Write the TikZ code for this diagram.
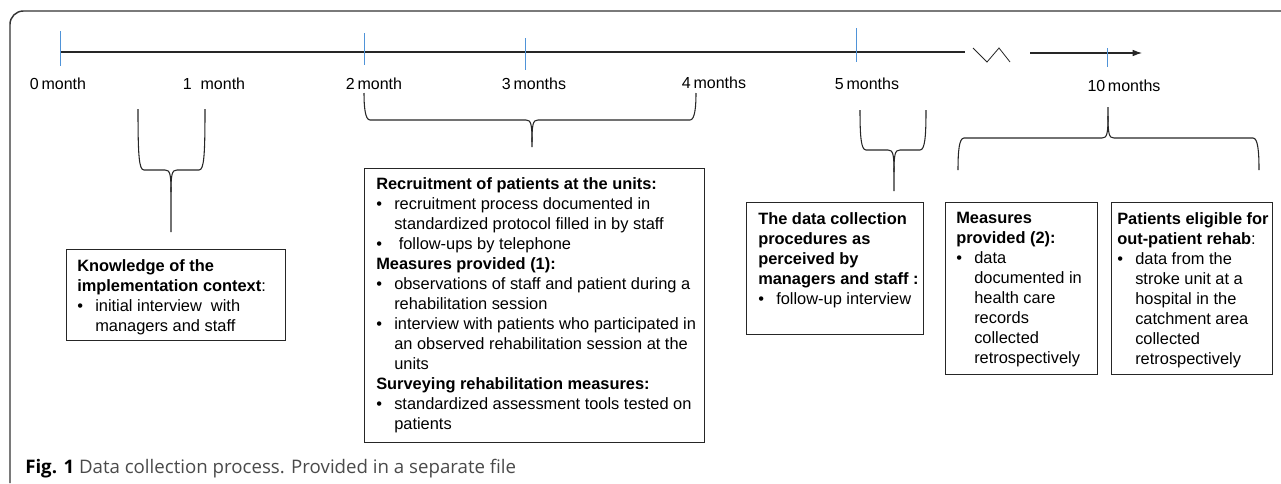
\documentclass[tikz,border=0pt]{standalone}
\usepackage{fontspec}
\setmainfont{Liberation Sans}
\newfontfamily\capfont{Open Sans}
\usetikzlibrary{arrows.meta}
\definecolor{tickblue}{HTML}{4F93D8}
\definecolor{capgray}{HTML}{4A4A4A}
\newcommand{\bul}{\makebox[13.5pt][l]{\textbullet}}
\newcommand{\ind}{\hspace*{13.5pt}}
% brace with arms up, tip down: L R top h T bottom
\newcommand{\bracedown}[6]{%
  \draw[brace] (#1,#3) .. controls (#1,#4-14) and (#1+1,#4) .. (#1+6,#4) -- (#5-6,#4)
     .. controls (#5-1,#4) and (#5,#4+4) .. (#5,#4+22) -- (#5,#6);
  \draw[brace] (#5,#4+22) .. controls (#5,#4+4) and (#5+1,#4) .. (#5+6,#4) -- (#2-6,#4)
     .. controls (#2-1,#4) and (#2,#4-14) .. (#2,#3);}
\newcommand{\braceup}[6]{%
  \draw[brace] (#1,#6) .. controls (#1,#4+14) and (#1+1,#4) .. (#1+6,#4) -- (#5-6,#4)
     .. controls (#5-1,#4) and (#5,#4-4) .. (#5,#4-22) -- (#5,#3);
  \draw[brace] (#5,#4-22) .. controls (#5,#4-4) and (#5+1,#4) .. (#5+6,#4) -- (#2-6,#4)
     .. controls (#2-1,#4) and (#2,#4+14) .. (#2,#6);}
\tikzset{
  brace/.style={draw=black!85, line width=0.8pt},
  tick/.style={draw=tickblue, line width=0.7pt},
  tline/.style={draw=black!85, line width=0.8pt},
  lbl/.style={font=\fontsize{12}{14}\selectfont, inner sep=0pt, anchor=base},
  boxx/.style={draw=black!85, line width=0.8pt, anchor=north west, inner sep=0pt},
  txt/.style={font=\fontsize{12.3}{15}\selectfont, align=left, anchor=north west, inner sep=0pt},
}
\begin{document}
\begin{tikzpicture}[x=0.75pt, y=-0.75pt]
\useasboundingbox (0,0) rectangle (1281,483);
% outer frame
\coordinate (fa) at (10,483);
\coordinate (fb) at (10,11);
\coordinate (fc) at (1295,11);
\draw[draw=black!80, line width=1.1pt, rounded corners=10pt] (fa) -- (fb) -- (fc);
% timeline
\coordinate (t0) at (60,52);
\coordinate (tend) at (965,52);
\draw[tline] (t0) -- (tend);
\coordinate (z1) at (973,48);
\coordinate (z2) at (987,62);
\coordinate (z3) at (999,48);
\coordinate (z4) at (1010,62);
\draw[tline, line width=0.6pt] (z1) -- (z2) -- (z3) -- (z4);
\coordinate (a0) at (1030,53);
\coordinate (a1) at (1142,53);
\draw[tline, -{Latex[length=7pt,width=5pt]}] (a0) -- (a1);
% ticks
\draw[tick] (60,31) -- (60,66);
\draw[tick] (364,33) -- (364,65);
\draw[tick] (525,38) -- (525,70);
\draw[tick] (856,28) -- (856,62);
\draw[tick] (1107,48) -- (1107,67);
% labels
\node[lbl] (l0) at (58,89) {0\,month};
\node[lbl] (l1) at (214,89) {1\ \ month};
\node[lbl] (l2) at (374,89) {2\,month};
\node[lbl] (l3) at (534,89) {3\,months};
\node[lbl] (l4) at (714,88) {4\,months};
\node[lbl] (l5) at (867,89) {5\,months};
\node[lbl] (l10) at (1124,91) {10\,months};
% braces
\bracedown{138}{205}{109}{170}{171}{232}
\bracedown{364}{696}{93}{120}{532}{147}
\bracedown{860}{926}{110}{150}{894}{191}
\braceup{958}{1259}{107}{138}{1108}{170}
% boxes
\node[boxx, minimum width={219*0.75pt}, minimum height={91*0.75pt}] (kbox) at (66,249) {};
\node[txt] (ktxt) at (77,259) {\textbf{Knowledge of the}\\
\textbf{implementation context}:\\
\bul initial interview\ \ with\\
\ind managers and staff};

\node[boxx, minimum width={340*0.75pt}, minimum height={274*0.75pt}] (rbox) at (364,168) {};
\node[txt] (rtxt) at (376,177) {\textbf{Recruitment of patients at the units:}\\
\bul recruitment process documented in\\
\ind standardized protocol filled in by staff\\
\bul\ follow-ups by telephone\\
\textbf{Measures provided (1):}\\
\bul observations of staff and patient during a\\
\ind rehabilitation session\\
\bul interview with patients who participated in\\
\ind an observed rehabilitation session at the\\
\ind units\\
\textbf{Surveying rehabilitation measures:}\\
\bul standardized assessment tools tested on\\
\ind patients};

\node[boxx, minimum width={177*0.75pt}, minimum height={132*0.75pt}] (dbox) at (746,202) {};
\node[txt] (dtxt) at (758,212) {\textbf{The data collection}\\
\textbf{procedures as}\\
\textbf{perceived by}\\
\textbf{managers and staff :}\\
\bul follow-up interview};

\node[boxx, minimum width={152*0.75pt}, minimum height={172*0.75pt}] (mbox) at (945,202) {};
\node[txt] (mtxt) at (956,212) {\textbf{Measures}\\
\textbf{provided (2):}\\
\bul data\\
\ind documented in\\
\ind health care\\
\ind records\\
\ind collected\\
\ind retrospectively};

\node[boxx, minimum width={161*0.75pt}, minimum height={172*0.75pt}] (pbox) at (1111,202) {};
\node[txt] (ptxt) at (1117,212) {\textbf{Patients eligible for}\\
\textbf{out-patient rehab}:\\
\bul data from the\\
\ind stroke unit at a\\
\ind hospital in the\\
\ind catchment area\\
\ind collected\\
\ind retrospectively};
% caption
\node[anchor=base west, inner sep=0pt, font=\capfont\fontsize{14}{16}\selectfont] (cap) at (25,473)
  {\textbf{Fig. 1} \textcolor{capgray}{Data collection process. Provided in a separate file}};
\end{tikzpicture}
\end{document}
